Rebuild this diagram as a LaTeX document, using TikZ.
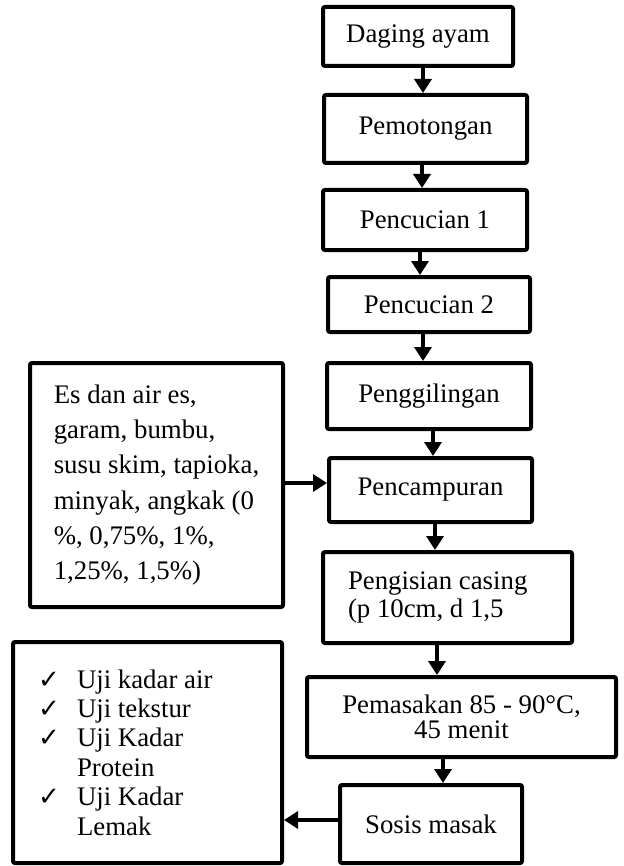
\documentclass[tikz,border=0pt]{standalone}
\usepackage{fontspec}
\setmainfont{Liberation Serif}
\newfontfamily\symfont{DejaVu Sans}
\usetikzlibrary{arrows.meta}
\newcommand{\chk}{\makebox[19.5pt][l]{\symfont\fontsize{13}{13}\selectfont ✓}}
\tikzset{
  procbox/.style={rectangle, draw=black, line width=2pt, rounded corners=1pt,
                  inner sep=0pt, font=\fontsize{13.4}{14}\selectfont, align=center},
  stepbox/.style 2 args={procbox, minimum width=#1*0.5pt, minimum height=#2*0.5pt},
  notebox/.style 2 args={procbox, align=flush left, inner xsep=#1*0.5pt,
                         text width=#2*0.5pt},
  flow/.style={-{Triangle[length=7pt,width=8.5pt]}, line width=2pt, draw=black}
}
\begin{document}
\begin{tikzpicture}[x=0.5pt,y=-0.5pt]
\useasboundingbox (0,0) rectangle (624,866);
\node[stepbox={190}{59}] (b1) at (418,36.5) {Daging ayam};
\node[stepbox={203}{68}] (b2) at (425.5,129) {Pemotongan};
\node[stepbox={204}{60}] (b3) at (425,220) {Pencucian 1};
\node[stepbox={202}{55}] (b4) at (429,304.5) {Pencucian 2};
\node[stepbox={204}{66}] (b5) at (429,396) {Penggilingan};
\node[stepbox={203}{64}] (b6) at (430.5,490) {Pencampuran};
\node[notebox={25}{199}, minimum height=45.5pt] (b7) at (447.5,597.5)
  {Pengisian casing\\(p 10cm, d 1,5};
\node[stepbox={309}{80}, font=\fontsize{13.4}{12.5}\selectfont] (b8) at (461.5,717)
  {Pemasakan 85 - 90°C,\\45 menit};
\node[stepbox={182}{78}] (b9) at (431,824) {Sosis masak};
\node[stepbox={253}{244}, align=left, font=\fontsize{13.4}{17.6}\selectfont]
  (bahan) at (156.5,485)
  {Es dan air es,\\garam, bumbu,\\susu skim, tapioka,\\minyak, angkak (0\\\%, 0,75\%, 1\%,\\1,25\%, 1,5\%)};
\node[notebox={25}{219}, minimum height=110.5pt, font=\fontsize{13.4}{14.7}\selectfont]
  (uji) at (147.5,752.5)
  {\chk Uji kadar air\\\chk Uji tekstur\\\chk Uji Kadar\\\hspace*{19.5pt}Protein\\\chk Uji Kadar\\\hspace*{19.5pt}Lemak};
\foreach \a/\b/\dx in {b1/b2/5, b2/b3/-3.5, b3/b4/-5, b4/b5/-6,
                       b5/b6/4, b6/b7/4.5, b7/b8/-10.5, b8/b9/-18.5}
  \draw[flow] ([xshift=\dx*0.5pt]\a.south) -- ([xshift=\dx*0.5pt]\a.south |- \b.north);
\draw[flow] ([yshift=1pt]bahan.east) -- ([yshift=1pt]bahan.east -| b6.west);
\draw[flow] ([yshift=2pt]b9.west) -- ([yshift=2pt]b9.west -| uji.east);
\end{tikzpicture}
\end{document}
